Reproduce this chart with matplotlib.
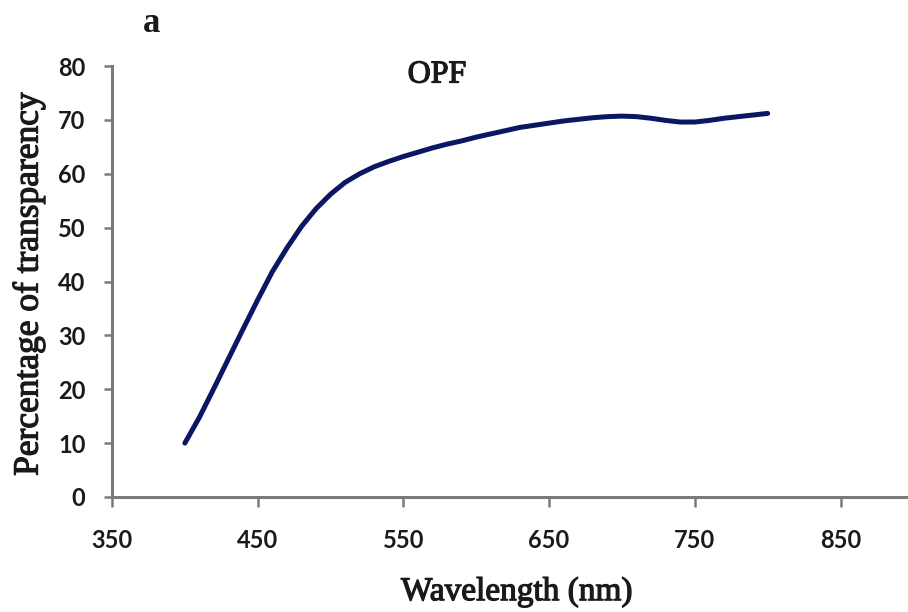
import numpy as np
import matplotlib.pyplot as plt
import matplotlib.patheffects as pe

# transparency spectrum of the OPF film
wavelength = [400, 410, 420, 430, 440, 450, 460, 470, 480, 490,
              500, 510, 520, 530, 540, 550, 560, 570, 580, 590,
              600, 610, 620, 630, 640, 650, 660, 670, 680, 690,
              700, 710, 720, 730, 740, 750, 760, 770, 780, 790, 800]
transparency = [10.0, 14.8, 20.2, 25.7, 31.2, 36.6, 41.8, 46.2, 50.2, 53.5,
                56.2, 58.4, 60.0, 61.3, 62.3, 63.2, 64.0, 64.8, 65.5, 66.1,
                66.8, 67.4, 68.0, 68.6, 69.0, 69.4, 69.8, 70.1, 70.4, 70.6,
                70.7, 70.6, 70.3, 69.9, 69.6, 69.6, 69.9, 70.3, 70.6, 70.9, 71.2]

xticks = [350, 450, 550, 650, 750, 850]
yticks = [0, 10, 20, 30, 40, 50, 60, 70, 80]

serif = 'Liberation Serif'
tickfont = {'family': 'Lato', 'weight': 'bold', 'size': 17}
# thicken the serif strokes a little
heavy = [pe.withStroke(linewidth=0.9, foreground='#1a1a1a')]

fig = plt.figure(figsize=(9.08, 6.12), dpi=100)
ax = fig.add_axes([112 / 908, 115 / 612, (908 - 112) / 908, 431 / 612])

ax.plot(wavelength, transparency, color='#0b1762', lw=3.6,
        solid_capstyle='round', solid_joinstyle='round')

ax.set_xlim(350, 350 + (908 - 112) / 1.457)
ax.set_ylim(0, 80)
ax.set_xticks(xticks)
ax.set_yticks(yticks)
ax.set_xticklabels([str(v) for v in xticks], fontdict=tickfont)
ax.set_yticklabels([str(v) for v in yticks], fontdict=tickfont)
for lbl in ax.get_xticklabels() + ax.get_yticklabels():
    lbl.set_color('#1a1a1a')

for side in ['top', 'right']:
    ax.spines[side].set_visible(False)
for side in ['left', 'bottom']:
    ax.spines[side].set_color('#7a7a7a')
    ax.spines[side].set_linewidth(2.2)

ax.tick_params(axis='x', direction='out', length=7, width=1.8,
               color='#7a7a7a', pad=16)
ax.tick_params(axis='y', direction='out', length=6, width=1.8,
               color='#7a7a7a', pad=13)

fig.text(29 / 908, 1 - 284 / 612, 'Percentage of transparency',
         rotation=90, ha='center', va='center', family=serif, fontsize=25.5,
         color='#1a1a1a', path_effects=heavy)
fig.text(517 / 908, 1 - 592 / 612, 'Wavelength (nm)',
         ha='center', va='center', family=serif, fontsize=24,
         color='#1a1a1a', path_effects=heavy)
fig.text(437 / 908, 1 - 75 / 612, 'OPF',
         ha='center', va='center', family=serif, fontsize=23,
         color='#1a1a1a', path_effects=heavy)
fig.text(152 / 908, 1 - 24 / 612, 'a',
         ha='center', va='center', family=serif, fontsize=25, weight='bold',
         color='#1a1a1a')

fig.savefig('out.png', dpi=100, facecolor='white')
